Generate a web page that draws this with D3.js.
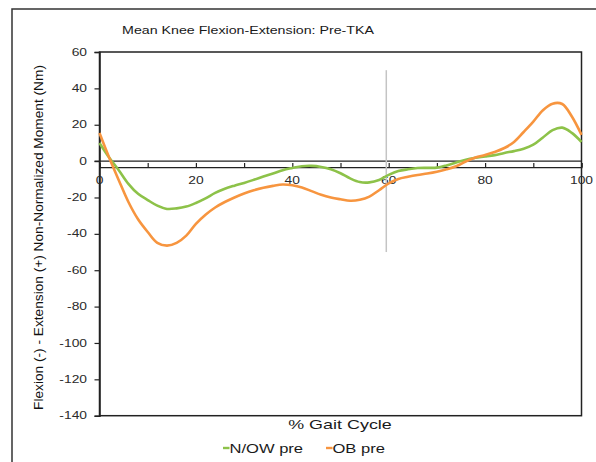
<!DOCTYPE html>
<html>
<head>
<meta charset="utf-8">
<script src="https://cdn.jsdelivr.net/npm/d3@7/dist/d3.min.js"></script>
<style>
  body { margin: 0; background: #fff; }
  svg { display: block; font-family: Arial, "Liberation Sans", sans-serif; }
</style>
</head>
<body>
<svg id="chart" width="596" height="462"></svg>
<script>
// % gait cycle sampled every 2%
const gaitPct = d3.range(0, 101, 2);

// Mean knee moment (Nm), normal / overweight group, pre-TKA
const nowPre = [
  10, 2, -5, -12.5, -18, -21.4, -24.5, -26.3, -26, -25,
  -23, -20.5, -17.5, -15.2, -13.5, -12, -10.3, -8.5, -6.8, -5,
  -3.8, -2.8, -2.6, -3.2, -4.5, -6.7, -9.5, -11.5, -11.7, -10.4,
  -7.6, -5.5, -4.5, -3.8, -3.7, -3.6, -2.4, -0.8, 0.8, 1.8,
  2.5, 3.3, 4.5, 5.5, 6.8, 9, 13, 17, 18.4, 15.5, 10.5
];

// Mean knee moment (Nm), obese group, pre-TKA
const obPre = [
  15.5, 2, -10.5, -22.5, -32, -39, -45, -46.5, -45, -41,
  -34.5, -29.5, -25.5, -22.5, -20, -17.8, -16, -14.6, -13.6, -12.9,
  -13.3, -14.5, -16.5, -18.5, -20, -21, -21.8, -21.3, -19.5, -16,
  -12.2, -9.8, -8.6, -7.6, -6.8, -5.8, -4.5, -2.8, -0.2, 2,
  3.4, 5, 7.2, 10.5, 16, 21.7, 28, 31.6, 31.4, 24.5, 14.4
];

const seriesNames = ["N/OW pre", "OB pre"];
const seriesColors = ["#8dc249", "#f7953f"];

const yTicks = d3.range(-140, 61, 20);
const xTicks = d3.range(0, 101, 10);
const xLabels = [0, 20, 40, 60, 80, 100];

// stance / swing divider
const toeOff = 59.5;
const toeOffSpan = [-50, 50];

// horizontal text is drawn slightly widened
const textStretch = 1.38;
const fmt = d => String(d); // plain hyphen for negatives

const svg = d3.select("#chart");

// place a horizontally widened label at (x, y)
function wideText(parent, px, py, str, size, anchor) {
  return parent.append("text")
    .attr("transform", `translate(${px},${py}) scale(${textStretch},1)`)
    .attr("text-anchor", anchor || "middle")
    .attr("font-size", size)
    .attr("fill", "#1a1a1a")
    .text(str);
}

// outer chart frame (only top and left edges are visible)
svg.append("path")
  .attr("d", "M12,462 L12,9 L596,9")
  .attr("fill", "none").attr("stroke", "#333").attr("stroke-width", 1.5);

const x = d3.scaleLinear().domain([0, 100]).range([99.5, 581.5]);
const y = d3.scaleLinear().domain([-140, 60]).range([415.7, 52]);

// title
wideText(svg, 248, 33.5, "Mean Knee Flexion-Extension: Pre-TKA", 10.3);

// plot box
svg.append("rect")
  .attr("x", x(0)).attr("y", y(60))
  .attr("width", x(100) - x(0)).attr("height", y(-140) - y(60))
  .attr("fill", "none").attr("stroke", "#222").attr("stroke-width", 1.5);

// y axis
const yAxis = svg.append("g")
  .attr("transform", `translate(${x(0)},0)`)
  .call(d3.axisLeft(y).tickValues(yTicks).tickSize(5).tickFormat(""));
yAxis.select(".domain").attr("stroke", "#222").attr("stroke-width", 1.5);
yAxis.selectAll(".tick line").attr("stroke", "#222").attr("stroke-width", 1.2);

const yLab = svg.append("g");
yTicks.forEach(t => {
  wideText(yLab, 87, y(t) + 3.6, fmt(t), 10, "end").attr("fill", "#2a2a2a");
});

// zero reference line
svg.append("line")
  .attr("x1", x(0) - 5).attr("x2", x(100))
  .attr("y1", y(0)).attr("y2", y(0))
  .attr("stroke", "#222").attr("stroke-width", 1.3);

// x axis sits just below the zero line
const xAxisY = y(0) + 6;
const xAxis = svg.append("g")
  .attr("transform", `translate(0,${xAxisY})`)
  .call(d3.axisTop(x).tickValues(xTicks).tickSize(4).tickFormat(""));
xAxis.select(".domain").attr("stroke", "#222").attr("stroke-width", 1.3);
xAxis.selectAll(".tick line").attr("stroke", "#222").attr("stroke-width", 1.2);

const xLab = svg.append("g");
xLabels.forEach(t => {
  wideText(xLab, x(t), xAxisY + 16.5, fmt(t), 10).attr("fill", "#2a2a2a");
});

// toe-off marker
svg.append("line")
  .attr("x1", x(toeOff)).attr("x2", x(toeOff))
  .attr("y1", y(toeOffSpan[1])).attr("y2", y(toeOffSpan[0]))
  .attr("stroke", "#c4c4c4").attr("stroke-width", 1.5);

// series lines
const line = d3.line()
  .x((d, i) => x(gaitPct[i]))
  .y(d => y(d))
  .curve(d3.curveCatmullRom.alpha(0.5));

[nowPre, obPre].forEach((vals, k) => {
  svg.append("path")
    .datum(vals)
    .attr("fill", "none")
    .attr("stroke", seriesColors[k])
    .attr("stroke-width", 2.6)
    .attr("stroke-linejoin", "round")
    .attr("d", line);
});

// axis titles
svg.append("text")
  .attr("transform", "translate(43,237.5) rotate(-90)")
  .attr("text-anchor", "middle")
  .attr("font-size", 13.7).attr("fill", "#111")
  .text("Flexion (-) - Extension (+) Non-Normalized Moment (Nm)");

wideText(svg, 340, 429, "% Gait Cycle", 13);

// legend
const legendX = [223, 326];
const legend = svg.append("g").selectAll("g")
  .data(seriesNames).join("g")
  .attr("transform", (d, i) => `translate(${legendX[i]},448)`);
legend.append("line")
  .attr("x1", 0).attr("x2", 6.5).attr("y1", 0).attr("y2", 0)
  .attr("stroke", (d, i) => seriesColors[i]).attr("stroke-width", 2.4);
legend.each(function () {
  wideText(d3.select(this), 6.5, 4.7, d3.select(this).datum(), 12, "start");
});
</script>
</body>
</html>
